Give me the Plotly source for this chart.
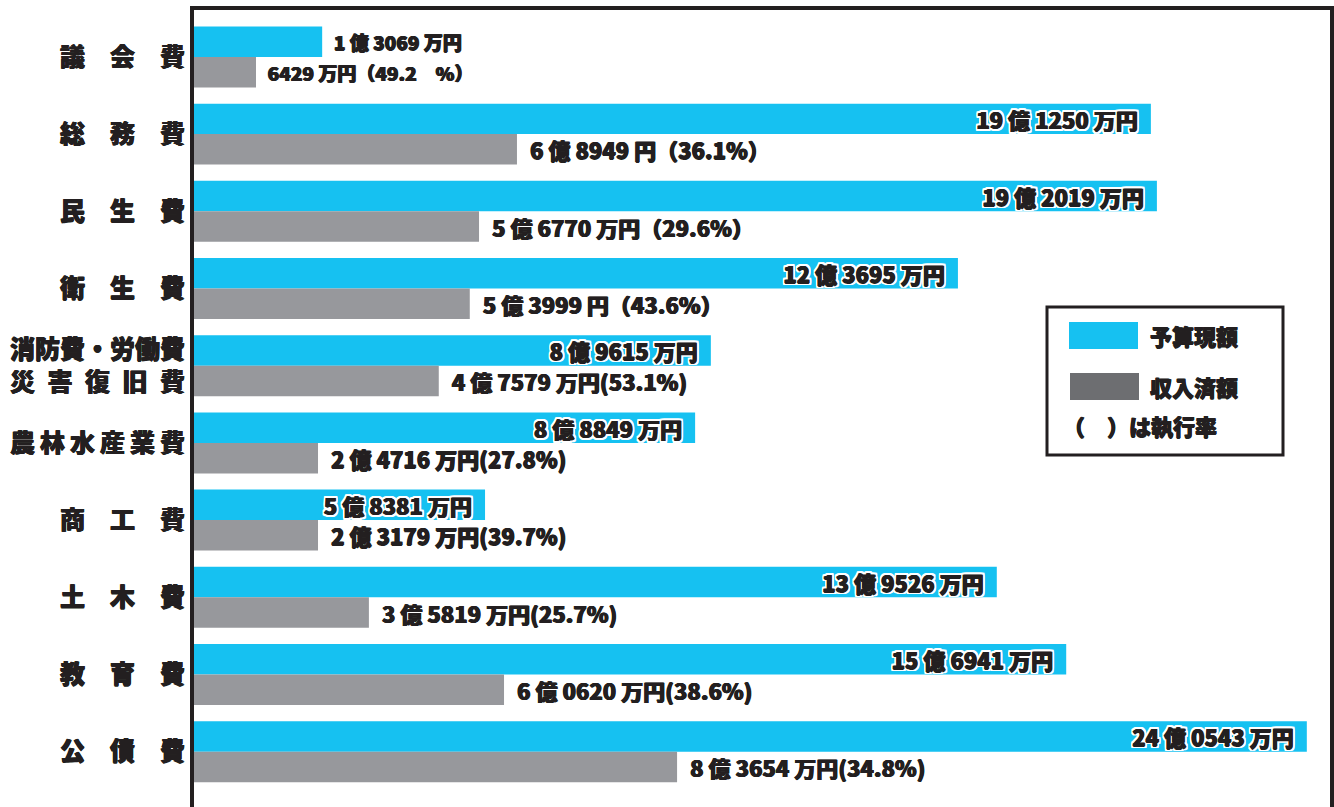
import plotly.graph_objects as go

# ---- data ----
categories = [
    "議　会　費",
    "総　務　費",
    "民　生　費",
    "衛　生　費",
    "消防費・労働費<br>災\u2002害\u2002復\u2002旧\u2002費",
    "農\u2009林\u2009水\u2009産\u2009業\u2009費",
    "商　工　費",
    "土　木　費",
    "教　育　費",
    "公　債　費",
]
budget_labels = [
    "1 億 3069 万円",
    "19 億 1250 万円",
    "19 億 2019 万円",
    "12 億 3695 万円",
    "8 億 9615 万円",
    "8 億 8849 万円",
    "5 億 8381 万円",
    "13 億 9526 万円",
    "15 億 6941 万円",
    "24 億 0543 万円",
]
income_labels = [
    "6429 万円（49.2　%）",
    "6 億 8949 円（36.1%）",
    "5 億 6770 万円（29.6%）",
    "5 億 3999 円（43.6%）",
    "4 億 7579 万円(53.1%)",
    "2 億 4716 万円(27.8%)",
    "2 億 3179 万円(39.7%)",
    "3 億 5819 万円(25.7%)",
    "6 億 0620 万円(38.6%)",
    "8 億 3654 万円(34.8%)",
]
# drawn bar lengths as they appear in the picture (億円 scale of the longest bar)
budget_bar = [2.77, 20.68, 20.81, 16.51, 11.17, 10.83, 6.29, 17.35, 18.85, 24.05]
income_bar = [1.34, 6.98, 6.16, 5.96, 5.29, 2.68, 2.68, 3.78, 6.70, 10.44]
series_names = ["予算現額", "収入済額"]
note_text = "（　）は執行率"

# ---- style ----
W, H = 1334, 807
ML, MR, MT, MB = 194, 4, 10, 0
CYAN = "#16C1F1"
GRAY = "#97989C"
GRAY_LEG = "#6D6E71"
INK = "#231F20"
FONT = "Noto Sans CJK JP"
BOLDEN = f"0.6px 0 0 {INK},-0.6px 0 0 {INK},0 0.5px 0 {INK}"
OUTLINE = BOLDEN + "," + ",".join(
    f"{dx}px {dy}px 0 #ffffff" for dx in (-2, -1, 0, 1, 2) for dy in (-2, -1, 0, 1, 2) if (dx, dy) != (0, 0))

pad = "\u00a0\u00a0"
budget_pos = ["outside" if v < 4 else "inside" for v in budget_bar]
budget_text = [(pad + t) if p == "outside" else (t + pad) for t, p in zip(budget_labels, budget_pos)]
income_text = [pad + t for t in income_labels]
income_sizes = [19] + [22] * (len(income_labels) - 1)

fig = go.Figure()
fig.add_trace(go.Bar(
    y=categories, x=budget_bar, orientation="h", name=series_names[0],
    marker=dict(color=CYAN, line=dict(width=0)),
    text=budget_text, textposition=budget_pos, insidetextanchor="end",
    textangle=0, constraintext="none", cliponaxis=False,
    insidetextfont=dict(family=FONT, size=22, color=INK, weight=900, shadow=OUTLINE),
    outsidetextfont=dict(family=FONT, size=19, color=INK, weight=900, shadow=BOLDEN),
    hoverinfo="skip", showlegend=False,
))
fig.add_trace(go.Bar(
    y=categories, x=income_bar, orientation="h", name=series_names[1],
    marker=dict(color=GRAY, line=dict(width=0)),
    text=income_text, textposition="outside",
    textangle=0, constraintext="none", cliponaxis=False,
    textfont=dict(family=FONT, size=income_sizes, color=INK, weight=900, shadow=BOLDEN),
    hoverinfo="skip", showlegend=False,
))

PW = W - ML - MR
PH = H - MT - MB


def px_x(x):
    # x in reference picture pixels -> paper fraction
    return (x - ML) / PW


def px_y(y):
    return 1 - (y - MT) / PH


shapes = [
    dict(type="rect", xref="paper", yref="paper",
         x0=px_x(1047), x1=px_x(1283), y0=px_y(455), y1=px_y(307),
         line=dict(color=INK, width=3), fillcolor="white", layer="above"),
    dict(type="rect", xref="paper", yref="paper",
         x0=px_x(1069), x1=px_x(1138), y0=px_y(349), y1=px_y(322),
         line=dict(width=0), fillcolor=CYAN, layer="above"),
    dict(type="rect", xref="paper", yref="paper",
         x0=px_x(1070), x1=px_x(1139), y0=px_y(400), y1=px_y(373),
         line=dict(width=0), fillcolor=GRAY_LEG, layer="above"),
]
leg_font = dict(family=FONT, size=22, color=INK, weight=900, shadow=BOLDEN)
annotations = [
    dict(xref="paper", yref="paper", x=px_x(1148), y=px_y(335), text=series_names[0],
         xanchor="left", yanchor="middle", showarrow=False, font=leg_font),
    dict(xref="paper", yref="paper", x=px_x(1148), y=px_y(386), text=series_names[1],
         xanchor="left", yanchor="middle", showarrow=False, font=leg_font),
    dict(xref="paper", yref="paper", x=px_x(1061), y=px_y(425), text=note_text,
         xanchor="left", yanchor="middle", showarrow=False, font=leg_font),
]

fig.update_layout(
    width=W, height=H,
    margin=dict(l=ML, r=MR, t=MT, b=MB, pad=0, autoexpand=False),
    paper_bgcolor="white", plot_bgcolor="white",
    barmode="group", bargap=0.21, bargroupgap=0,
    shapes=shapes, annotations=annotations,
    font=dict(family=FONT, color=INK),
    xaxis=dict(range=[0, 24.551], side="top", showline=True, linewidth=4, linecolor=INK,
               showgrid=False, zeroline=False, showticklabels=False, ticks="", fixedrange=True,
               automargin=False),
    yaxis=dict(type="category", categoryorder="array", categoryarray=categories,
               range=[9.717, -0.608], showline=True, mirror=True, linewidth=4, linecolor=INK,
               showgrid=False, zeroline=False, ticks="", ticklabelstandoff=0, automargin=False,
               tickfont=dict(family=FONT, size=25, color=INK, weight=900, shadow=BOLDEN),
               fixedrange=True),
)

fig.write_html(
    "out.html",
    config={"displayModeBar": False},
    post_script="document.body.style.margin='0';document.body.style.overflow='hidden';",
)
